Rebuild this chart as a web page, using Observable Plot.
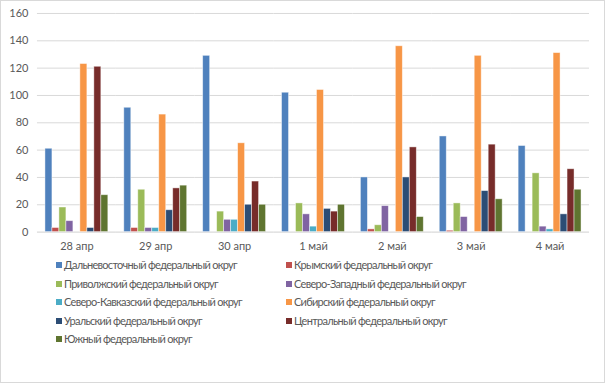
<!DOCTYPE html>
<html>
<head>
<meta charset="utf-8">
<script src="https://cdn.jsdelivr.net/npm/d3@7"></script>
<script src="https://cdn.jsdelivr.net/npm/@observablehq/plot@0.6"></script>
<style>
  html, body { margin: 0; padding: 0; background: #fff; }
  #wrap { position: relative; width: 605px; height: 383px; box-sizing: border-box; border: 1px solid #d9d9d9; overflow: hidden; font-family: Lato, "Liberation Sans", sans-serif; }
  #chart { position: absolute; left: -1px; top: -1px; }
  #legend { position: absolute; left: 0; top: 0; width: 605px; height: 383px; }
  .item { position: absolute; font-size: 11px; letter-spacing: -0.7px; color: #595959; white-space: nowrap; line-height: 12px; }
  .sw { display: inline-block; width: 6px; height: 6px; margin-right: 2px; vertical-align: 1px; }
</style>
</head>
<body>
<div id="wrap"><div id="chart"></div><div id="legend"></div></div>
<script>
const dates = ["28 апр", "29 апр", "30 апр", "1 май", "2 май", "3 май", "4 май"];
const seriesNames = [
  "Дальневосточный федеральный округ",
  "Крымский федеральный округ",
  "Приволжский федеральный округ",
  "Северо-Западный федеральный округ",
  "Северо-Кавказский федеральный округ",
  "Сибирский федеральный округ",
  "Уральский федеральный округ",
  "Центральный федеральный округ",
  "Южный федеральный округ"
];
const seriesColors = ["#4F81BD", "#C0504D", "#9BBB59", "#8064A2", "#4BACC6", "#F79646", "#2C4D75", "#772C2A", "#5F7530"];

const dalnevostochny = [61, 91, 129, 102, 40, 70, 63];
const krymsky        = [3, 3, 0, 0, 2, 1, 0];
const privolzhsky    = [18, 31, 15, 21, 5, 21, 43];
const severoZapadny  = [8, 3, 9, 13, 19, 11, 4];
const severoKavkaz   = [0, 3, 9, 4, 0, 0, 2];
const sibirsky       = [123, 86, 65, 104, 136, 129, 131];
const uralsky        = [3, 16, 20, 17, 40, 30, 13];
const centralny      = [121, 32, 37, 15, 62, 64, 46];
const yuzhny         = [27, 34, 20, 20, 11, 24, 31];
const yTicks = [0, 20, 40, 60, 80, 100, 120, 140, 160];

const seriesValues = [dalnevostochny, krymsky, privolzhsky, severoZapadny, severoKavkaz, sibirsky, uralsky, centralny, yuzhny];
const rows = [];
seriesNames.forEach((s, i) => dates.forEach((d, j) => rows.push({date: d, series: s, value: seriesValues[i][j]})));

const chart = Plot.plot({
  width: 605,
  height: 258,
  marginLeft: 34,
  marginRight: 12,
  marginTop: 13,
  marginBottom: 26,
  style: {fontFamily: "Lato, 'Liberation Sans', sans-serif", fontSize: "11px", color: "#595959", background: "transparent"},
  fx: {domain: dates, padding: 0, label: null, tickSize: 0, tickPadding: 10},
  x: {domain: seriesNames, paddingInner: 0, paddingOuter: 0.875, axis: null},
  y: {domain: [0, 160], ticks: yTicks, tickSize: 0, tickPadding: 9, label: null},
  color: {domain: seriesNames, range: seriesColors},
  marks: [
    Plot.ruleY(yTicks.slice(1), {stroke: "#d9d9d9", strokeWidth: 1}),
    Plot.ruleY([0], {stroke: "#d0d0d0", strokeWidth: 1}),
    Plot.barY(rows.filter(r => r.value > 0), {fx: "date", x: "series", y: "value", fill: "series", stroke: "#ffffff", strokeOpacity: 0.55, strokeWidth: 0.8})
  ]
});
document.getElementById("chart").appendChild(chart);

const legend = document.getElementById("legend");
const colX = [55, 285];
const rowY = [258, 276.5, 295, 313.5, 332];
seriesNames.forEach((s, i) => {
  const el = document.createElement("div");
  el.className = "item";
  el.style.left = colX[i % 2] + "px";
  el.style.top = rowY[Math.floor(i / 2)] + "px";
  const sw = document.createElement("span");
  sw.className = "sw";
  sw.style.background = seriesColors[i];
  el.appendChild(sw);
  el.appendChild(document.createTextNode(s));
  legend.appendChild(el);
});
</script>
</body>
</html>
